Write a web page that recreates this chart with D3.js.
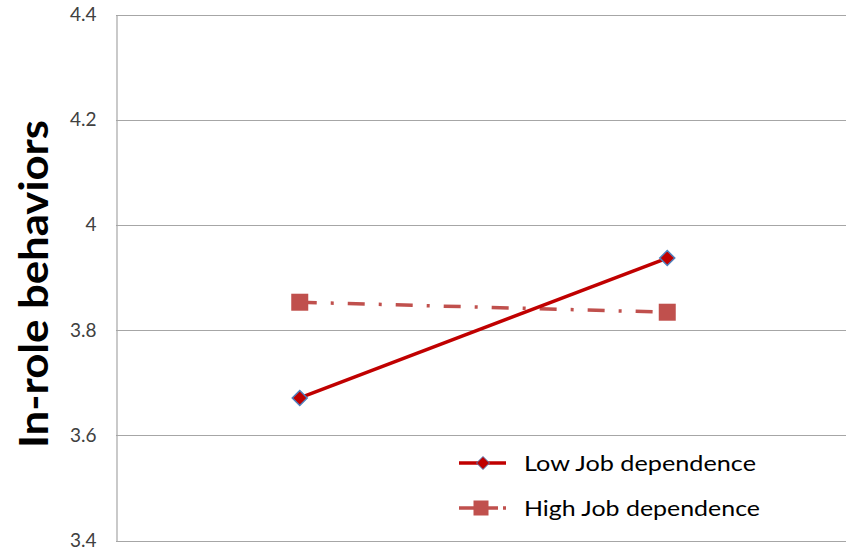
<!DOCTYPE html>
<html>
<head>
<meta charset="utf-8">
<script src="https://cdn.jsdelivr.net/npm/d3@7/dist/d3.min.js"></script>
<style>
  html, body { margin: 0; padding: 0; background: #fff; }
  svg { display: block; font-family: Lato, "Open Sans", sans-serif; }
</style>
</head>
<body>
<svg id="chart" width="846" height="550"></svg>
<script>
const categories = ["Low", "High"];
const lowJobDependence = [3.671, 3.937];
const highJobDependence = [3.853, 3.834];
const yTicks = [3.4, 3.6, 3.8, 4, 4.2, 4.4];
const seriesNames = ["Low Job dependence", "High Job dependence"];
const yTitle = "In-role behaviors";

(function () {
const svg = d3.select("#chart");
const pLeft = 116, pRight = 851, pTop = 14.5, pBottom = 540.5;

const x = d3.scaleBand().domain(categories).range([pLeft, pRight]);
const y = d3.scaleLinear().domain([3.4, 4.4]).range([pBottom, pTop]);

// gridlines
svg.append("g")
  .selectAll("line")
  .data(yTicks)
  .join("line")
  .attr("x1", pLeft).attr("x2", 846)
  .attr("y1", d => Math.round(y(d)) + 0.5).attr("y2", d => Math.round(y(d)) + 0.5)
  .attr("stroke", "#a6a6a6").attr("stroke-width", 1.2);

// y axis
const yAxis = d3.axisLeft(y).tickValues(yTicks).tickSize(0).tickPadding(20)
  .tickFormat(d => d3.format("")(d));
const ga = svg.append("g").attr("transform", `translate(${pLeft + 0.5},0)`).call(yAxis);
ga.select(".domain").attr("stroke", "#a6a6a6").attr("stroke-width", 1.2);
ga.selectAll("text").attr("font-size", 19).attr("fill", "#404040")
  .attr("font-family", "Lato, 'Open Sans', sans-serif");

// y title
svg.append("text")
  .attr("transform", `translate(48,284) rotate(-90)`)
  .attr("text-anchor", "middle")
  .attr("font-size", 40).attr("font-weight", "bold").attr("fill", "#000")
  .attr("textLength", 328).attr("lengthAdjust", "spacingAndGlyphs")
  .text(yTitle);

const cx = c => x(c) + x.bandwidth() / 2;
const line = d3.line().x((d, i) => cx(categories[i])).y(d => y(d));

// High job dependence (dash-dot)
svg.append("path").datum(highJobDependence)
  .attr("d", line).attr("fill", "none")
  .attr("stroke", "#C0504D").attr("stroke-width", 3.5)
  .attr("stroke-dasharray", "17,14,3,14");

svg.append("g").selectAll("rect").data(highJobDependence).join("rect")
  .attr("x", (d, i) => cx(categories[i]) - 8.5)
  .attr("y", d => y(d) - 8.5)
  .attr("width", 17).attr("height", 17)
  .attr("fill", "#C0504D");

// Low job dependence (solid)
svg.append("path").datum(lowJobDependence)
  .attr("d", line).attr("fill", "none")
  .attr("stroke", "#C00000").attr("stroke-width", 3.5);

const diamond = (cxv, cyv, r) => `M${cxv},${cyv - r}L${cxv + r},${cyv}L${cxv},${cyv + r}L${cxv - r},${cyv}Z`;
svg.append("g").selectAll("path").data(lowJobDependence).join("path")
  .attr("d", (d, i) => diamond(cx(categories[i]), y(d), 7.5))
  .attr("fill", "#C00000").attr("stroke", "#4F81BD").attr("stroke-width", 1.5);

// legend
const legend = svg.append("g");
const ly = [463, 508];
legend.append("line").attr("x1", 459).attr("x2", 506).attr("y1", ly[0]).attr("y2", ly[0])
  .attr("stroke", "#C00000").attr("stroke-width", 3.5);
legend.append("path").attr("d", diamond(483, ly[0], 6.5))
  .attr("fill", "#C00000").attr("stroke", "#4F81BD").attr("stroke-width", 1);
legend.append("line").attr("x1", 459).attr("x2", 506).attr("y1", ly[1]).attr("y2", ly[1])
  .attr("stroke", "#C0504D").attr("stroke-width", 3.5).attr("stroke-dasharray", "17,5");
legend.append("rect").attr("x", 481 - 7.5).attr("y", ly[1] - 7.5).attr("width", 15).attr("height", 15)
  .attr("fill", "#C0504D");
const legendWidths = [232, 236];
legend.selectAll("text.lbl").data(seriesNames).join("text")
  .attr("class", "lbl")
  .attr("x", 524).attr("y", (d, i) => ly[i] + 8)
  .attr("font-size", 22).attr("fill", "#000")
  .attr("textLength", (d, i) => legendWidths[i]).attr("lengthAdjust", "spacingAndGlyphs")
  .text(d => d);
})();
</script>
</body>
</html>
